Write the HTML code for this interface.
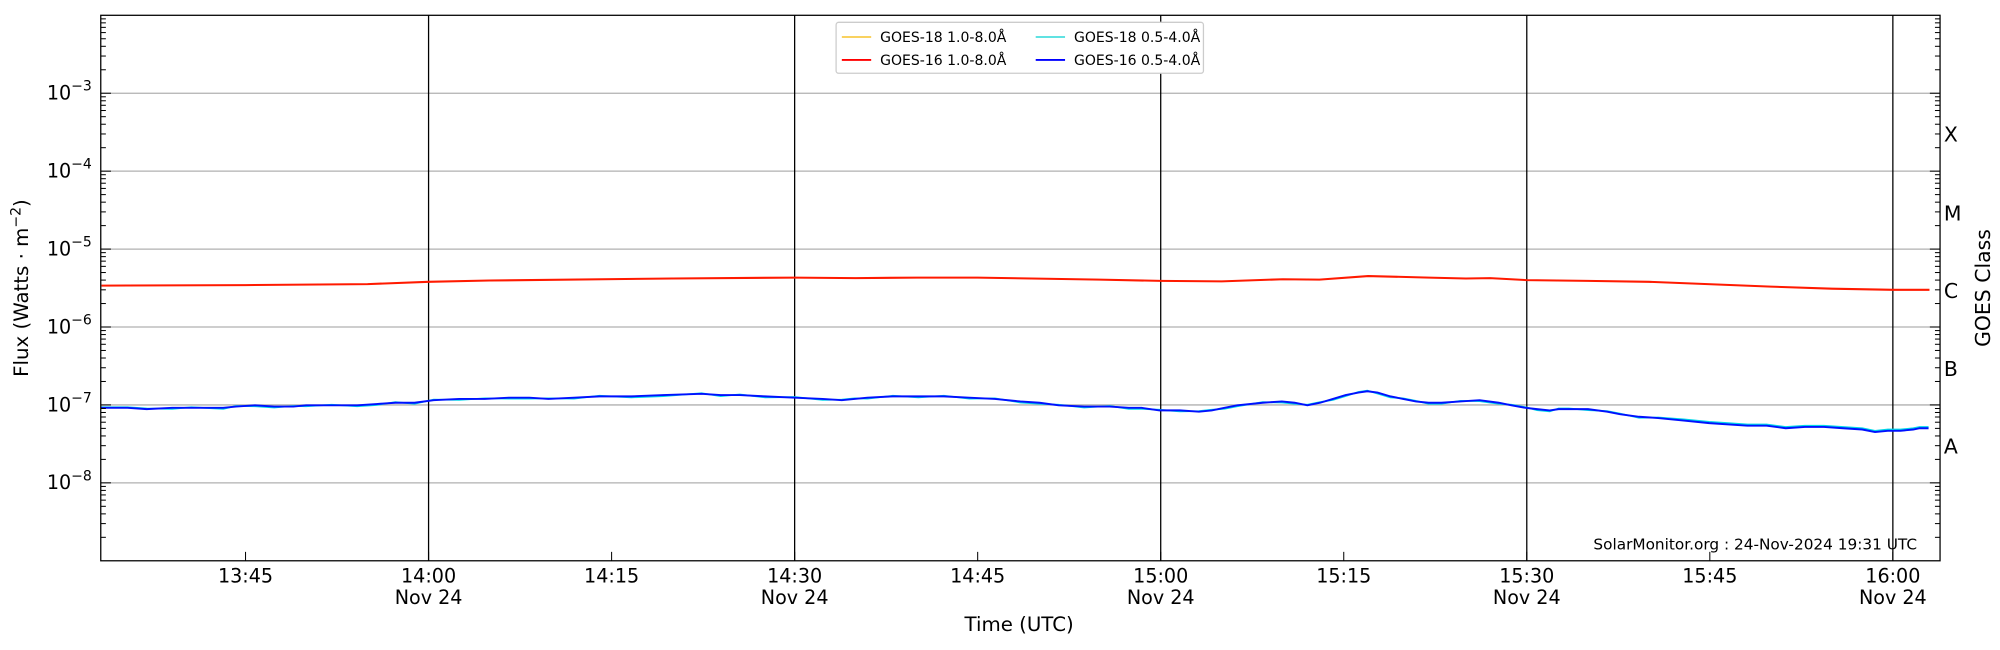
<!DOCTYPE html>
<html><head><meta charset="utf-8"><style>
html,body{margin:0;padding:0;background:#fff;}
svg{display:block;font-family:"DejaVu Sans","Liberation Sans",sans-serif;}
</style></head><body>
<svg id="s" width="2000" height="650" viewBox="0 0 1568 510" preserveAspectRatio="none" xmlns="http://www.w3.org/2000/svg">
<rect x="0" y="0" width="1568" height="510" fill="#fff"/>
<g id="grid"></g>
<g id="data"></g>
<rect x="79" y="12" width="1442" height="428" fill="none" stroke="#000" stroke-width="1"/>
<g id="ticks" stroke="#000" stroke-width="0.8"></g>
<g id="labels" font-size="15" fill="#000"></g>
<text x="22" y="226" font-size="15.5" text-anchor="middle" transform="rotate(-90 22 226)">Flux (Watts · m<tspan dy="-6" font-size="11">−2</tspan><tspan dy="6">)</tspan></text>
<text x="1560" y="226" font-size="16" text-anchor="middle" transform="rotate(-90 1560 226)">GOES Class</text>
<text x="799" y="495" font-size="15.5" text-anchor="middle">Time (UTC)</text>
<text x="1503" y="431" font-size="12" text-anchor="end">SolarMonitor.org : 24-Nov-2024 19:31 UTC</text>
<g font-size="16">
<text x="1524" y="111">X</text><text x="1524" y="173">M</text><text x="1524" y="234">C</text><text x="1524" y="295">B</text><text x="1524" y="356">A</text>
</g>
<g>
<rect x="655.5" y="17.5" width="288" height="40" rx="2" fill="#fff" stroke="#ccc"/>
<line x1="660" y1="29" x2="683" y2="29" stroke="#f5b700" stroke-width="1"/>
<text x="690" y="33" font-size="11">GOES-18 1.0-8.0Å</text>
<line x1="812" y1="29" x2="835" y2="29" stroke="#00d0d0" stroke-width="1"/>
<text x="842" y="33" font-size="11">GOES-18 0.5-4.0Å</text>
<line x1="660" y1="47" x2="683" y2="47" stroke="#ff0000" stroke-width="1.5"/>
<text x="690" y="51" font-size="11">GOES-16 1.0-8.0Å</text>
<line x1="812" y1="47" x2="835" y2="47" stroke="#0000ff" stroke-width="1.5"/>
<text x="842" y="51" font-size="11">GOES-16 0.5-4.0Å</text>
</g>
</svg>
<script>
var NS="http://www.w3.org/2000/svg";
function el(p,t,a,txt){var e=document.createElementNS(NS,t);for(var k in a)e.setAttribute(k,a[k]);if(txt!==undefined)e.textContent=txt;document.getElementById(p).appendChild(e);return e;}
var D=61.143;function Y(l){return 12+(-2-l)*D;}
function X(m){return 336+(m-840)*287/30;}
for(var e=-3;e>=-8;e--){var y=Y(e);el("grid","line",{x1:79,x2:1521,y1:y,y2:y,stroke:"#b0b0b0","stroke-width":1});
var t=el("labels","text",{x:72,y:y+5,"text-anchor":"end"});t.innerHTML='10<tspan dy="-7" font-size="11">−'+(-e)+'</tspan>';}
[840,870,900,930,960].forEach(function(m){var x=X(m);el("grid","line",{x1:x,x2:x,y1:12,y2:440,stroke:"#000","stroke-width":1});});
for(var e=-9;e<-2;e++){for(var k=1;k<10;k++){var l=e+Math.log10(k);var y=Y(l);if(y<12||y>440)continue;var L=k==1?8:4;
el("ticks","line",{x1:79,x2:79+L,y1:y,y2:y});el("ticks","line",{x1:1521,x2:1521-L,y1:y,y2:y});}}
[825,840,855,870,885,900,915,930,945,960].forEach(function(m){var x=X(m);el("ticks","line",{x1:x,x2:x,y1:440,y2:433});
var h=Math.floor(m/60),mm=m%60;var s=h+":"+(mm<10?"0":"")+mm;el("labels","text",{x:x,y:457,"text-anchor":"middle"},s);
if(mm==0||mm==30)el("labels","text",{x:x,y:474,"text-anchor":"middle"},"Nov 24");});
var red=[[813.2,3.4],[825,3.45],[835,3.55],[840,3.8],[845,3.95],[860,4.2],[870,4.3],[875,4.25],[880,4.3],[885,4.3],[895,4.05],[900,3.9],[905,3.85],[910,4.1],[913,4.05],[917,4.5],[922,4.3],[925,4.2],[927,4.25],[930,4.0],[935,3.9],[940,3.8],[950,3.3],[955,3.1],[960,3.0],[963,3.0]];
var p=red.map(function(d){return X(d[0]).toFixed(1)+","+Y(Math.log10(d[1]*1e-6)).toFixed(1);}).join(" ");
el("data","polyline",{points:p,fill:"none",stroke:"#f5b700","stroke-width":1});
el("data","polyline",{points:p,fill:"none",stroke:"#ff1a00","stroke-width":1.6});
var b=[[79,320],[100,320],[115,321],[135,320],[150,320],[175,320],[185,319],[200,318],[215,319],[230,319],[240,318],[260,318],[280,318],[295,317],[310,316],[325,316],[340,314],[360,313],[380,313],[400,312],[415,312],[430,313],[450,312],[470,311],[495,311],[520,310],[550,309],[565,310],[580,310],[600,311],[623,312],[645,313],[660,314],[670,313],[680,312],[700,311],[720,311],[740,311],[760,312],[780,313],[800,315],[815,316],[830,318],[850,319],[870,319],[885,320],[895,320],[909,322],[925,322],[940,323],[950,322],[960,320],[970,318],[990,316],[1005,315],[1015,316],[1025,318],[1035,316],[1045,313],[1055,310],[1065,308],[1072,307],[1080,308],[1090,311],[1100,313],[1110,315],[1120,316],[1130,316],[1145,315],[1160,314],[1175,316],[1185,318],[1196,320],[1205,321],[1215,322],[1222,321],[1230,321],[1245,321],[1260,323],[1270,325],[1285,327],[1300,328],[1320,330],[1340,332],[1355,333],[1370,334],[1385,334],[1400,336],[1415,335],[1430,335],[1445,336],[1460,337],[1470,339],[1480,338],[1490,338],[1500,337],[1505,336],[1512,336]];
var pc=b.map(function(d){var off=(d[0]>1300?-1:(d[0]%40<20?0.8:-0.5));return d[0]+","+(d[1]+off);}).join(" ");
el("data","polyline",{points:pc,fill:"none",stroke:"#00d8e8","stroke-width":1.3});
el("data","polyline",{points:b.map(function(d){return d.join(",");}).join(" "),fill:"none",stroke:"#0010ff","stroke-width":1.5});
</script>
</body></html>
